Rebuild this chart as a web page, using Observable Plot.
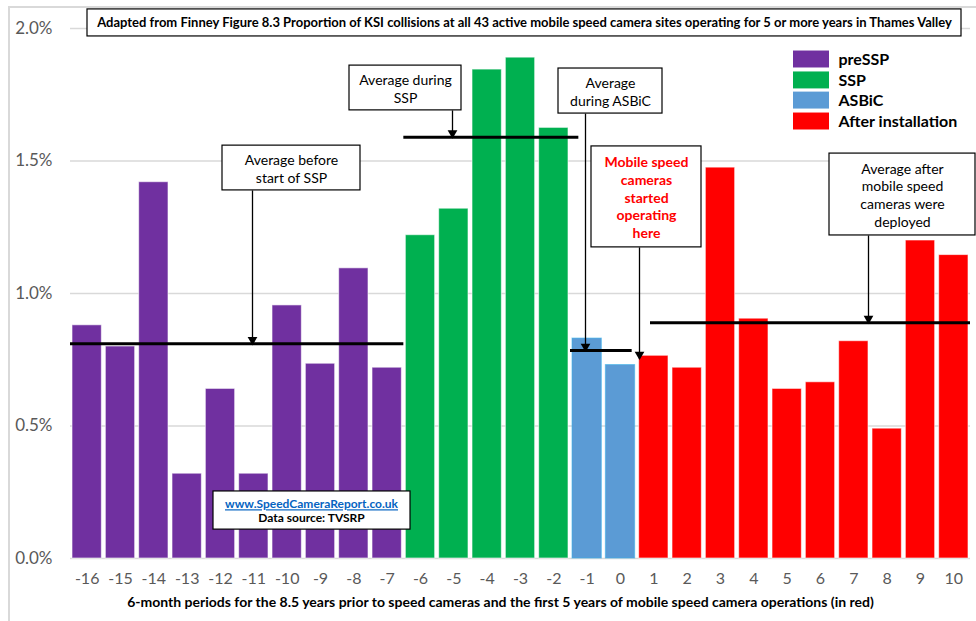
<!DOCTYPE html>
<html>
<head>
<meta charset="utf-8">
<script src="https://cdn.jsdelivr.net/npm/d3@7"></script>
<script src="https://cdn.jsdelivr.net/npm/@observablehq/plot@0.6"></script>
<style>
  html, body { margin: 0; padding: 0; background: #fff; }
  #wrap { position: relative; width: 976px; height: 621px; overflow: hidden; }
  #border { position: absolute; left: 8px; top: 6px; width: 1000px; height: 640px;
            border-left: 2px solid #d9d9d9; border-top: 2px solid #d9d9d9; pointer-events: none; }
  #chart svg { font-family: Lato, "Open Sans", sans-serif; }
</style>
</head>
<body>
<div id="wrap">
  <div id="chart"></div>
  <div id="border"></div>
</div>
<script>
// Six-month periods relative to the start of mobile camera operation
const periods = [-16, -15, -14, -13, -12, -11, -10, -9, -8, -7, -6, -5, -4, -3, -2, -1, 0, 1, 2, 3, 4, 5, 6, 7, 8, 9, 10];
// Proportion of KSI collisions (%) in each period
const ksiShare = [0.88, 0.80, 1.42, 0.32, 0.64, 0.32, 0.955, 0.735, 1.095, 0.72,
                  1.22, 1.32, 1.845, 1.89, 1.625,
                  0.83, 0.73,
                  0.765, 0.72, 1.475, 0.905, 0.64, 0.665, 0.82, 0.49, 1.20, 1.145];
// Phase each period belongs to
const phaseOf = ["preSSP", "preSSP", "preSSP", "preSSP", "preSSP", "preSSP", "preSSP", "preSSP", "preSSP", "preSSP",
                 "SSP", "SSP", "SSP", "SSP", "SSP",
                 "ASBiC", "ASBiC",
                 "After installation", "After installation", "After installation", "After installation", "After installation",
                 "After installation", "After installation", "After installation", "After installation", "After installation"];
const phaseNames = ["preSSP", "SSP", "ASBiC", "After installation"];
const phaseColors = ["#7030A0", "#00B050", "#5B9BD5", "#FF0000"];
const phaseAverages = [0.81, 1.59, 0.785, 0.89];
const yTicks = [0, 0.5, 1.0, 1.5, 2.0];

const chartTitle = "Adapted from Finney Figure 8.3 Proportion of KSI collisions at all 43 active mobile speed camera sites operating for 5 or more years in Thames Valley";
const xTitle = "6-month periods for the 8.5 years prior to speed cameras and the first 5 years of mobile speed camera operations (in red)";
const siteUrl = "www.SpeedCameraReport.co.uk";
const sourceNote = "Data source: TVSRP";

// Table of bars
const bars = periods.map((p, i) => ({period: p, value: ksiShare[i], phase: phaseOf[i]}));

// Average line for each phase, drawn across that phase's periods (small hand trims at the ends)
const avgTrim = [[0, 0], [0, 0.25], [0, -0.15], [0.4, 0]];
const avgLines = phaseNames.map((name, i) => {
  const ps = bars.filter(d => d.phase === name).map(d => d.period);
  return {phase: name, value: phaseAverages[i], from: d3.min(ps) - 0.5 + avgTrim[i][0], to: d3.max(ps) + 0.5 + avgTrim[i][1]};
});

// Callout boxes with connectors pointing at the averages (layout in data units)
const callouts = [
  {text: "Average before\nstart of SSP", x1: -11.94, x2: -7.80, y1: 1.389, y2: 1.558, ax: -11.04, target: phaseAverages[0], color: "#000", bold: false},
  {text: "Average during\nSSP", x1: -8.13, x2: -4.77, y1: 1.691, y2: 1.860, ax: -5.04, target: phaseAverages[1], color: "#000", bold: false},
  {text: "Average\nduring ASBiC", x1: -1.86, x2: 1.26, y1: 1.679, y2: 1.849, ax: -1.05, target: phaseAverages[2], color: "#000", bold: false},
  {text: "Mobile speed\ncameras\nstarted\noperating\nhere", x1: -0.87, x2: 2.43, y1: 1.174, y2: 1.555, ax: 0.57, target: 0.755, color: "#FF0000", bold: true},
  {text: "Average after\nmobile speed\ncameras were\ndeployed", x1: 6.27, x2: 10.65, y1: 1.219, y2: 1.528, ax: 7.44, target: phaseAverages[3], color: "#000", bold: false}
];
const boxes = [
  ...callouts,
  {x1: -15.99, x2: 10.23, y1: 1.970, y2: 2.072},   // title frame
  {x1: -12.21, x2: -6.30, y1: 0.109, y2: 0.253}    // source frame
];

// Legend rows
const legend = phaseNames.map((name, i) => ({name, color: phaseColors[i], y: [1.883, 1.804, 1.728, 1.649][i]}));

const calloutText = (bold) => Plot.text(callouts.filter(d => d.bold === bold), {
  x: d => (d.x1 + d.x2) / 2, y: d => (d.y1 + d.y2) / 2, text: "text",
  fill: "color", fontWeight: bold ? "bold" : "normal", fontSize: 14, lineHeight: 1.27
});

const chart = Plot.plot({
  width: 976,
  height: 621,
  marginTop: 28,
  marginBottom: 63,
  marginLeft: 70,
  marginRight: 6,
  style: {fontFamily: "Lato, 'Open Sans', sans-serif", background: "transparent"},
  x: {domain: [-16.5, 10.5]},
  y: {domain: [0, 2.0]},
  color: {domain: phaseNames, range: phaseColors},
  marks: [
    Plot.gridY(yTicks, {stroke: "#d9d9d9", strokeOpacity: 1, strokeWidth: 1.5}),
    Plot.axisY({ticks: yTicks, tickFormat: d => d.toFixed(1) + "%", tickSize: 0, tickPadding: 18,
                fontSize: 17, fill: "#595959", label: null}),
    Plot.axisX({ticks: periods, tickFormat: d => `${d}`, tickSize: 0, tickPadding: 14,
                fontSize: 16, fill: "#595959", label: null}),
    Plot.rectY(bars, {x1: d => d.period - 0.5, x2: d => d.period + 0.5, y: "value", fill: "phase",
                      stroke: d => d.phase === "ASBiC" ? "#3ab2ea" : "#ffffff", strokeOpacity: 0.6, strokeWidth: 1,
                      insetLeft: 2, insetRight: 2}),
    Plot.ruleY(avgLines, {y: "value", x1: "from", x2: "to", stroke: "#000", strokeWidth: 3}),
    // connectors
    Plot.link(callouts, {x1: "ax", x2: "ax", y1: "y1", y2: "target", stroke: "#000", strokeWidth: 1.3}),
    Plot.dot(callouts, {x: "ax", y: "target", symbol: "triangle", rotate: 180, r: 3.6, fill: "#000", dy: -4}),
    // boxes
    Plot.rect(boxes, {x1: "x1", x2: "x2", y1: "y1", y2: "y2", fill: "#fff", stroke: "#000", strokeWidth: 1.2}),
    calloutText(false),
    calloutText(true),
    Plot.text([chartTitle], {x: (-15.99 + 10.23) / 2, y: 2.021, text: d => d, fontSize: 13, fontWeight: "bold", fill: "#000"}),
    Plot.text([siteUrl], {x: -9.27, y: 0.204, text: d => d, fontSize: 12, fontWeight: "bold", fill: "#0563C1"}),
    Plot.text([sourceNote], {x: -9.27, y: 0.151, text: d => d, fontSize: 12, fontWeight: "bold", fill: "#000"}),
    // legend
    Plot.rect(legend, {x1: 5.19, x2: 6.27, y1: d => d.y - 0.032, y2: d => d.y + 0.032, fill: "color"}),
    Plot.text(legend, {x: 6.54, y: "y", text: "name", textAnchor: "start", fontSize: 16, fontWeight: "bold", fill: "#000"}),
    // x-axis title
    Plot.text([xTitle], {frameAnchor: "bottom", dy: 48, dx: -20, text: d => d, fontSize: 14, fontWeight: "bold", fill: "#000"})
  ]
});

document.getElementById("chart").appendChild(chart);
// underline the web address
for (const t of chart.querySelectorAll("text")) {
  if (t.textContent === siteUrl) t.style.textDecoration = "underline";
}
</script>
</body>
</html>
